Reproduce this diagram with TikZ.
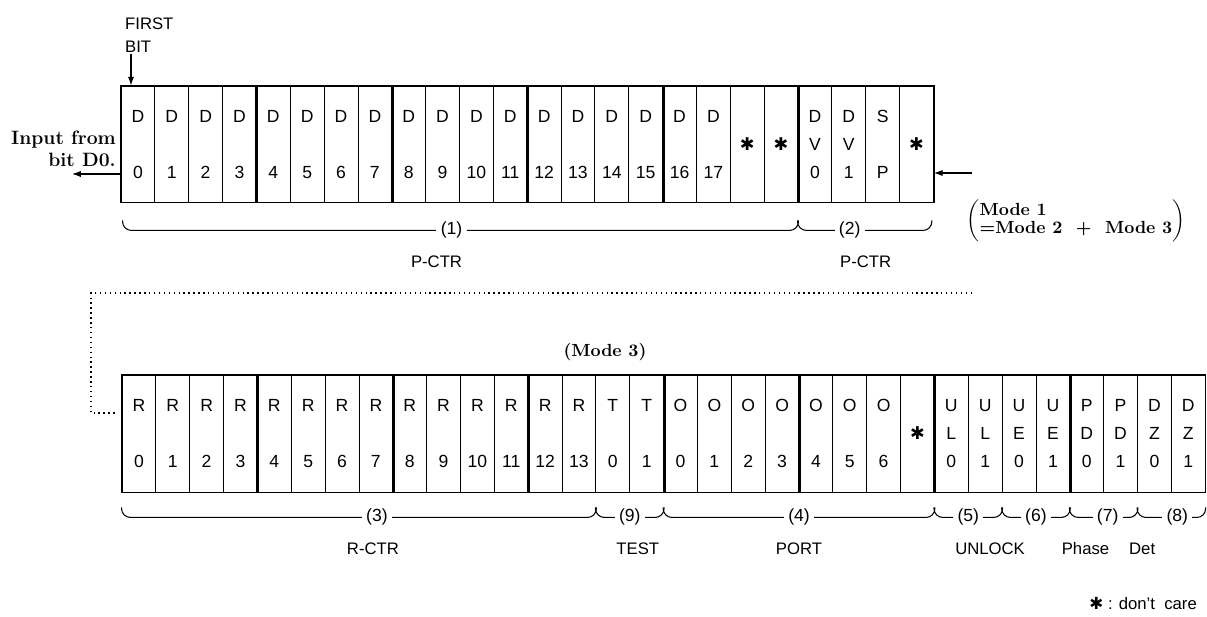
\documentclass[tikz,border=0pt]{standalone}
\usepackage{fontspec}
\setsansfont{Liberation Sans}
\newfontfamily\starfont{DejaVu Sans}
\usetikzlibrary{arrows.meta,calc}
\newcommand{\dc}{{\starfont ✱}}

\tikzset{
    cellbox/.style={draw, line width=0.5pt, minimum width=0.677cm, inner sep=0pt, align=center, font=\sffamily\fontsize{10}{16}\selectfont},
    topcell/.style={cellbox, minimum height=2.32cm},
    botcell/.style={cellbox, minimum height=2.34cm},
    framebox/.style={line width=0.9pt},
    groupsep/.style={line width=1.7pt},
    hookbrace/.style={line width=0.6pt, rounded corners=5pt},
    bracenum/.style={fill=white, inner xsep=2.5pt, inner ysep=1pt, font=\sffamily\fontsize{10}{11}\selectfont},
    grouplbl/.style={font=\sffamily\fontsize{9.5}{11}\selectfont},
    modelbl/.style={font=\bfseries\fontsize{10}{10.5}\selectfont},
    inarrow/.style={line width=0.6pt, -{Latex[length=5pt,width=3.5pt]}},
    linkdots/.style={line width=0.7pt, dash pattern=on 0.8pt off 2pt}
}

\begin{document}
\begin{tikzpicture}[x=0.02cm,y=-0.02cm]
    \useasboundingbox (0,0) rectangle (1207,616);
    \foreach \a/\b/\c [count=\i from 0] in {D/{}/0,D/{}/1,D/{}/2,D/{}/3,D/{}/4,D/{}/5,D/{}/6,D/{}/7,D/{}/8,D/{}/9,D/{}/10,D/{}/11,D/{}/12,D/{}/13,D/{}/14,D/{}/15,D/{}/16,D/{}/17,{}/\dc/{},{}/\dc/{},D/V/0,D/V/1,S/{}/P,{}/\dc/{}}
        \node[topcell] (t\i) at ({121+33.85*(\i+0.5)},144) {\rule{0pt}{7.2pt}\a\\\b\\\c};
    \foreach \i in {3,7,11,15,19}
        \draw[groupsep] (t\i.north east) -- (t\i.south east);
    \draw[framebox] (t0.north west) rectangle (t23.south east);

    \foreach \a/\b/\c [count=\i from 0] in {R/{}/0,R/{}/1,R/{}/2,R/{}/3,R/{}/4,R/{}/5,R/{}/6,R/{}/7,R/{}/8,R/{}/9,R/{}/10,R/{}/11,R/{}/12,R/{}/13,T/{}/0,T/{}/1,O/{}/0,O/{}/1,O/{}/2,O/{}/3,O/{}/4,O/{}/5,O/{}/6,{}/\dc/{},U/L/0,U/L/1,U/E/0,U/E/1,P/D/0,P/D/1,D/Z/0,D/Z/1}
        \node[botcell] (b\i) at ({122+33.85*(\i+0.5)},433.5) {\rule{0pt}{7.2pt}\a\\\b\\\c};
    \foreach \i in {3,7,11,15,19,23,27}
        \draw[groupsep] (b\i.north east) -- (b\i.south east);
    \draw[framebox] (b0.north west) rectangle (b31.south east);

    \node[grouplbl, font=\sffamily\fontsize{9.5}{13}\selectfont, anchor=west, align=left] (firstbit) at (119,35) {FIRST\\BIT};
    \coordinate (fbtail) at (131,54);
    \draw[inarrow] (fbtail) -- (fbtail |- t0.north);
    \node[font=\bfseries\fontsize{11}{12.5}\selectfont, anchor=east, align=right] (inlbl) at (122,149) {Input from\\bit D0.};
    \coordinate (outtip) at (72,174);
    \draw[inarrow] (t0.south west |- outtip) -- (outtip);
    \coordinate (intail) at (972,173);
    \draw[inarrow] (intail) -- (intail -| t23.east);

    \draw[hookbrace] ($(t0.south west)+(2,18)$) |- ($(t19.south east)+(0,28)$) -- ($(t19.south east)+(0,18)$);
    \draw[hookbrace] ($(t20.south west)+(0,18)$) |- ($(t23.south east)+(-2,28)$) -- ($(t23.south east)+(-2,18)$);
    \node[bracenum] (n1) at ($(t0.south west)!0.5!(t19.south east)+(-8,28)$) {(1)};
    \node[bracenum] (n2) at ($(t20.south west)!0.5!(t23.south east)+(-16,28)$) {(2)};
    \node[grouplbl] (pctr1) at ($(n1)+(-15,31)$) {P-CTR};
    \node[grouplbl] (pctr2) at ($(n2)+(16,31)$) {P-CTR};
    \node[modelbl] (mode1) at (1076,221) {$\left(\begin{tabular}{@{}l@{}}Mode 1\\=Mode 2 \ + \ Mode 3\end{tabular}\right)$};

    \coordinate (dotstart) at (972,293);
    \coordinate (dotend) at (117,413);
    \draw[linkdots] (dotstart) -- (91,293) |- (dotend);
    \node[modelbl] (mode3) at (605,352) {(Mode 3)};

    \foreach \f/\l/\n/\dx in {0/13/3/18,14/15/9/0,16/23/4/0,24/25/5/0,26/27/6/0,28/29/7/4,30/31/8/6}
    {
        \draw[hookbrace] ($(b\f.south west)+(0,15)$) |- ($(b\l.south east)+(0,25)$) -- ($(b\l.south east)+(0,15)$);
        \node[bracenum] (n\n) at ($(b\f.south west)!0.5!(b\l.south east)+(\dx,25)$) {(\n)};
    }
    \node[grouplbl] (rctr) at ($(n3)+(-4,31)$) {R-CTR};
    \node[grouplbl] (test) at ($(n9)+(8,31)$) {TEST};
    \node[grouplbl] (port) at ($(n4)+(0,31)$) {PORT};
    \node[grouplbl] (unlock) at ($(n5)!0.5!(n6)+(-12,31)$) {UNLOCK};
    \node[grouplbl] (phasedet) at ($(n7)!0.5!(n8)+(-34,31)$) {Phase\hspace{1.2em}Det};
    \node[grouplbl, anchor=east] (dcnote) at (1203,603) {\dc\ : don't\ \ care};
\end{tikzpicture}
\end{document}
